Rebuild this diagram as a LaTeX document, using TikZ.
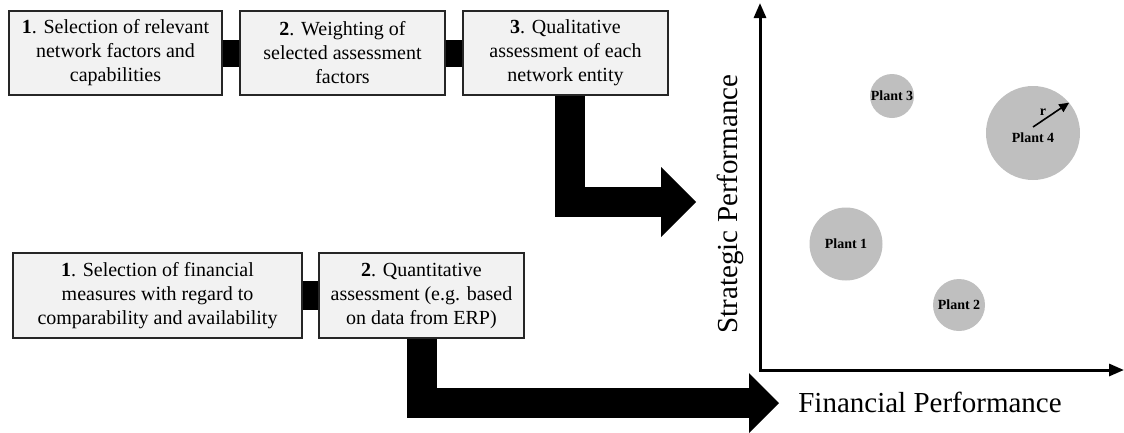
\documentclass[tikz,border=0pt]{standalone}
\usepackage{fontspec}
\setmainfont{Liberation Serif}
\usetikzlibrary{arrows.meta,calc}
\definecolor{boxfill}{HTML}{F2F2F2}
\definecolor{bubble}{HTML}{BFBFBF}
\begin{document}
\begin{tikzpicture}[x=1bp,y=-1bp,
  stepbox/.style={draw=black!85, line width=1.2bp, fill=boxfill, inner sep=0pt, align=center, font=\fontsize{20bp}{24bp}\selectfont},
  bigarrow/.style={line width=30bp, line join=miter, draw=black},
  plant/.style={circle, fill=bubble, draw=none, inner sep=0pt, font=\fontsize{14bp}{16bp}\selectfont\bfseries},
  axis/.style={line width=3bp, line join=miter, {Triangle[width=12bp,length=15bp]}-{Triangle[width=12bp,length=15bp]}},
  axislabel/.style={font=\fontsize{29bp}{34bp}\selectfont}
]
\useasboundingbox (0,0) rectangle (1124,432);

% top process
\node[stepbox, minimum width=213bp, minimum height=84bp] (b1) at (115.5,53) {\textbf{1}. Selection of relevant\\network factors and\\capabilities};
\node[stepbox, minimum width=205bp, minimum height=84bp] (b2) at (342.5,53) {\textbf{2}. Weighting of\\selected assessment\\factors};
\node[stepbox, minimum width=205bp, minimum height=84bp] (b3) at (565.5,53) {\textbf{3}. Qualitative\\assessment of each\\network entity};
\draw[line width=27bp] (b1.east) -- (b2.west);
\draw[line width=27bp] (b2.east) -- (b3.west);

% bottom process
\node[stepbox, minimum width=289bp, minimum height=85bp] (c1) at (157.5,295.5) {\textbf{1}. Selection of financial\\measures with regard to\\comparability and availability};
\node[stepbox, minimum width=205bp, minimum height=85bp] (c2) at (421.5,295.5) {\textbf{2}. Quantitative\\assessment (e.g. based\\on data from ERP)};
\draw[line width=29bp] (c1.east) -- (c2.west);

% big arrows
\coordinate (t1) at (696,202);
\draw[bigarrow, -{Triangle[width=70bp,length=35bp,line width=0pt]}] ([xshift=4.5bp]b3.south) |- (t1);
\coordinate (t2) at (779,403);
\draw[bigarrow, -{Triangle[width=60bp,length=30bp,line width=0pt]}] (c2.south) |- (t2);

% chart axes
\coordinate (O) at (760,370);
\coordinate (Y) at (760,3);
\coordinate (X) at (1124,370);
\draw[axis] (Y) -- (O) -- (X);
\node[axislabel] (fx) at (930,402) {Financial Performance};
\node[axislabel, rotate=90] (fy) at (730,204) {Strategic Performance};

% bubbles
\node[plant, minimum size=73bp] (p1) at (846,244) {Plant 1};
\node[plant, minimum size=52bp] (p2) at (959,305) {Plant 2};
\node[plant, minimum size=44bp] (p3) at (892,96) {Plant 3};
\node[plant, minimum size=94bp] (p4) at (1033,133) {};
\node[font=\fontsize{14bp}{16bp}\selectfont\bfseries] (p4t) at (1033,138) {Plant 4};
\coordinate (rs) at (1033,127);
\draw[line width=1.6bp, -{Triangle[width=9bp,length=10bp]}] (rs) -- (p4.40);
\node[font=\fontsize{14bp}{16bp}\selectfont\bfseries] (rl) at (1043,112) {r};
\end{tikzpicture}
\end{document}
